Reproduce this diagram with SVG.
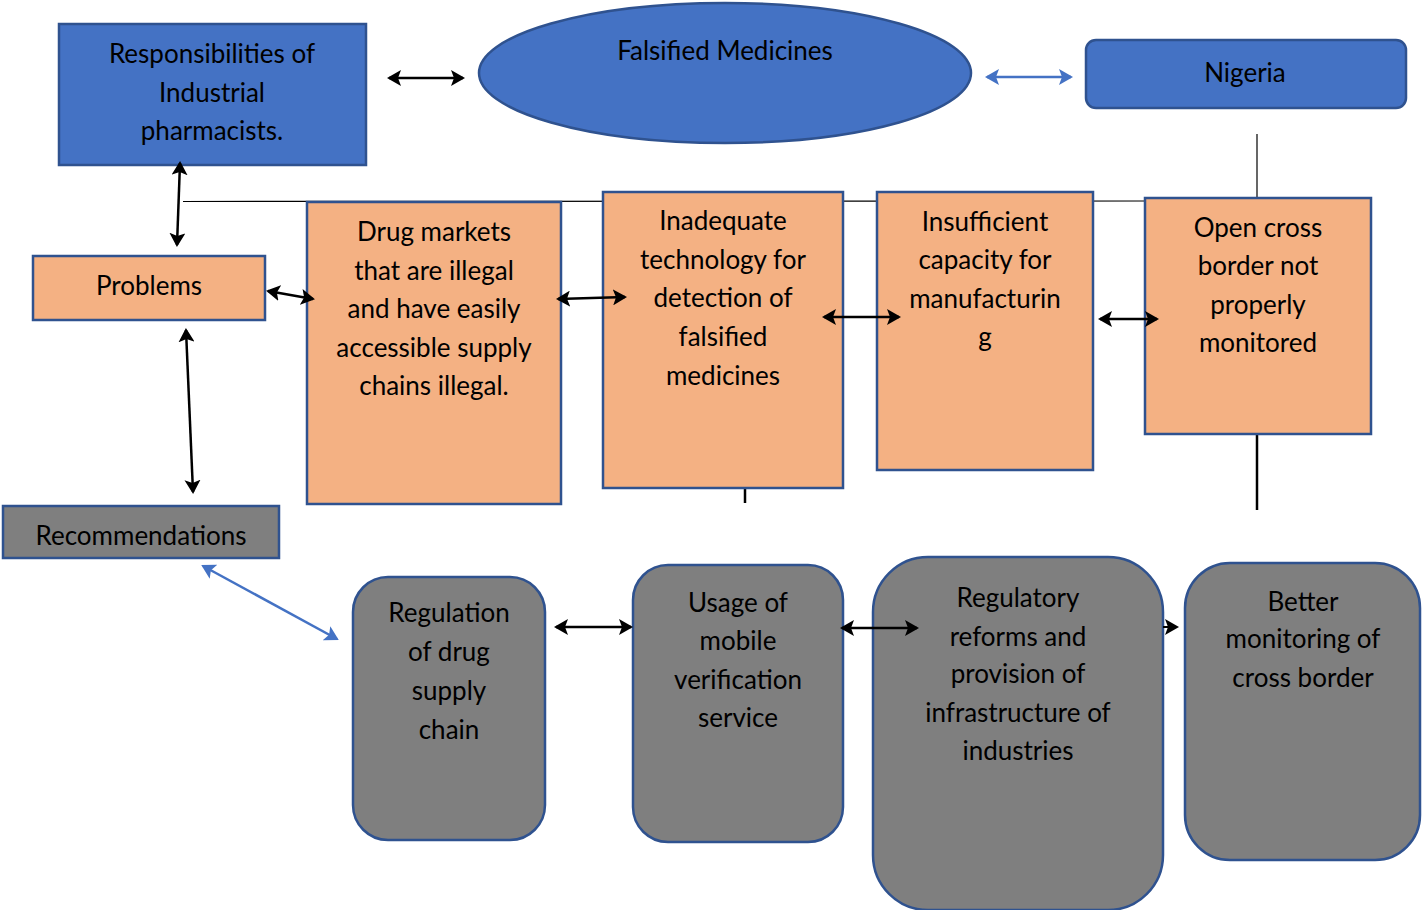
<svg xmlns="http://www.w3.org/2000/svg" width="1422" height="910" viewBox="0 0 1422 910">
<defs>
<style>
.blue{fill:#4472C4;stroke:#2F528F;stroke-width:2.5}
.org{fill:#F4B183;stroke:#2F528F;stroke-width:2.5}
.gray{fill:#7F7F7F;stroke:#2F528F;stroke-width:2.5}
text{font-family:Lato,"Open Sans","Liberation Sans",sans-serif;font-size:26px;fill:#000;text-anchor:middle}
.ba{stroke:#000;stroke-width:2.5;fill:none;marker-start:url(#ah);marker-end:url(#ah)}
.bl{stroke:#4472C4;stroke-width:2.5;fill:none;marker-start:url(#ahb);marker-end:url(#ahb)}
.thin{stroke:#000;stroke-width:1.2;fill:none}
</style>
<marker id="ah" markerUnits="userSpaceOnUse" viewBox="0 0 14 16" refX="12" refY="8" markerWidth="14" markerHeight="16" orient="auto-start-reverse"><path d="M0,0 L14,8 L0,16 L3,8 Z" fill="#000"/></marker>
<marker id="ahb" markerUnits="userSpaceOnUse" viewBox="0 0 14 16" refX="12" refY="8" markerWidth="14" markerHeight="16" orient="auto-start-reverse"><path d="M0,0 L14,8 L0,16 L3,8 Z" fill="#4472C4"/></marker>
<marker id="ahs" markerUnits="userSpaceOnUse" viewBox="0 0 14 16" refX="12" refY="8" markerWidth="14" markerHeight="16" orient="auto"><path d="M0,0 L14,8 L0,16 L3,8 Z" fill="#000"/></marker>
</defs>
<rect width="1422" height="910" fill="#fff"/>
<g id="connector-lines">
<line class="thin" x1="183" y1="201.5" x2="1146" y2="201"/>
<line class="thin" x1="1257" y1="134" x2="1257" y2="198"/>
<line x1="1257" y1="434" x2="1257" y2="510" stroke="#000" stroke-width="2.5"/>
<line x1="745" y1="488" x2="745" y2="503" stroke="#000" stroke-width="2.5"/>
</g>
<g id="responsibilities">
<rect class="blue" x="59" y="24" width="307" height="141"/>
<text x="212" y="63">Responsibilities of</text>
<text x="212" y="102">Industrial</text>
<text x="212" y="140">pharmacists.</text>
</g>
<g id="falsified">
<ellipse class="blue" cx="725" cy="73" rx="246" ry="70"/>
<text x="725" y="60">Falsified Medicines</text>
</g>
<g id="nigeria">
<rect class="blue" x="1086" y="40" width="320" height="68" rx="10"/>
<text x="1245" y="82">Nigeria</text>
</g>
<g id="problems">
<rect class="org" x="33" y="256" width="232" height="64"/>
<text x="149" y="295">Problems</text>
</g>
<g id="drug-markets">
<rect class="org" x="307" y="202" width="254" height="302"/>
<text x="434" y="241">Drug markets</text>
<text x="434" y="280">that are illegal</text>
<text x="434" y="318">and have easily</text>
<text x="434" y="357">accessible supply</text>
<text x="434" y="395">chains illegal.</text>
</g>
<g id="inadequate">
<rect class="org" x="603" y="192" width="240" height="296"/>
<text x="723" y="230">Inadequate</text>
<text x="723" y="269">technology for</text>
<text x="723" y="307">detection of</text>
<text x="723" y="346">falsified</text>
<text x="723" y="385">medicines</text>
</g>
<g id="insufficient">
<rect class="org" x="877" y="192" width="216" height="278"/>
<text x="985" y="231">Insufficient</text>
<text x="985" y="269">capacity for</text>
<text x="985" y="308">manufacturin</text>
<text x="985" y="346">g</text>
</g>
<g id="open-cross">
<rect class="org" x="1145" y="198" width="226" height="236"/>
<text x="1258" y="237">Open cross</text>
<text x="1258" y="275">border not</text>
<text x="1258" y="314">properly</text>
<text x="1258" y="352">monitored</text>
</g>
<g id="recommendations">
<rect class="gray" x="3" y="506" width="276" height="52"/>
<text x="141" y="545">Recommendations</text>
</g>
<g id="regulation">
<rect class="gray" x="353" y="577" width="192" height="263" rx="35"/>
<text x="449" y="622">Regulation</text>
<text x="449" y="661">of drug</text>
<text x="449" y="700">supply</text>
<text x="449" y="739">chain</text>
</g>
<g id="usage">
<rect class="gray" x="633" y="565" width="210" height="277" rx="35"/>
<text x="738" y="612">Usage of</text>
<text x="738" y="650">mobile</text>
<text x="738" y="689">verification</text>
<text x="738" y="727">service</text>
</g>
<g id="regulatory">
<rect class="gray" x="873" y="557" width="290" height="353" rx="55"/>
<text x="1018" y="607">Regulatory</text>
<text x="1018" y="646">reforms and</text>
<text x="1018" y="683">provision of</text>
<text x="1018" y="722">infrastructure of</text>
<text x="1018" y="760">industries</text>
</g>
<g id="better">
<rect class="gray" x="1185" y="563" width="235" height="297" rx="45"/>
<text x="1303" y="611">Better</text>
<text x="1303" y="648">monitoring of</text>
<text x="1303" y="687">cross border</text>
</g>
<g id="connectors">
<line class="ba" x1="389" y1="78" x2="463" y2="78"/>
<line class="bl" x1="987" y1="77" x2="1071" y2="77"/>
<line class="ba" x1="180" y1="163" x2="177" y2="245"/>
<line class="ba" x1="268" y1="291" x2="313" y2="299"/>
<line class="ba" x1="558" y1="299" x2="625" y2="297"/>
<line class="ba" x1="824" y1="317" x2="899" y2="317"/>
<line class="ba" x1="1100" y1="319" x2="1157" y2="319"/>
<line class="ba" x1="186" y1="330" x2="193" y2="492"/>
<line class="bl" x1="203" y1="566" x2="337" y2="639"/>
<line class="ba" x1="556" y1="627" x2="631" y2="627"/>
<line class="ba" x1="842" y1="628" x2="917" y2="628"/>
<line x1="1163" y1="627" x2="1177" y2="627" stroke="#000" stroke-width="2" marker-end="url(#ahs)"/>
</g>
</svg>
